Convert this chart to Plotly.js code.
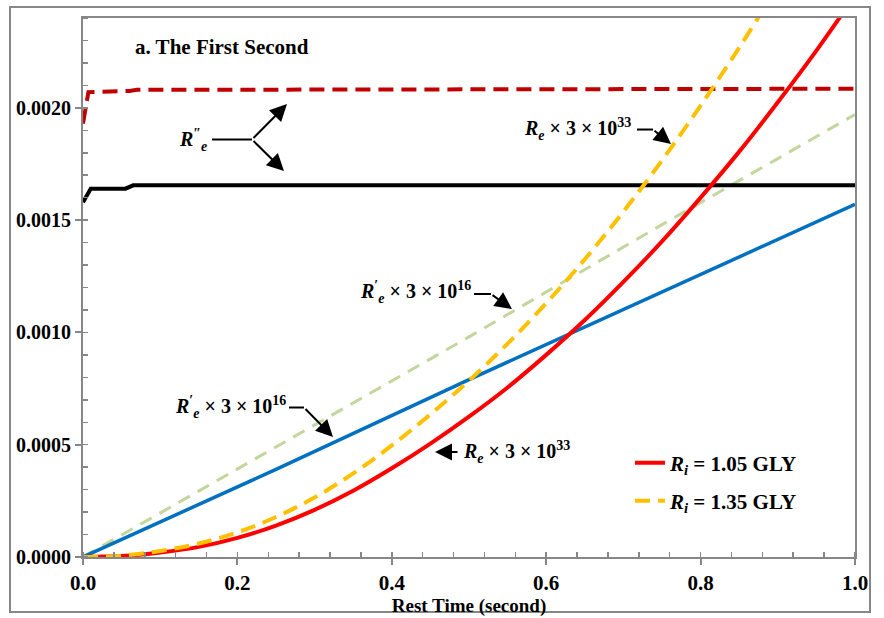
<!DOCTYPE html>
<html>
<head>
<meta charset="utf-8">
<script src="https://cdn.plot.ly/plotly-3.0.1.min.js"></script>
<style>html,body{margin:0;padding:0;background:#fff;}#chart{width:884px;height:618px;}</style>
</head>
<body>
<div id="chart"></div>
<script>
// ---- data ----
const tQuad = [0,0.05,0.1,0.15,0.2,0.25,0.3,0.35,0.4,0.45,0.5,0.55,0.6,0.65,0.7,0.75,0.8,0.85,0.9,0.95,1.0];
const reRed = [0,0.000004,0.000020,0.000045,0.000085,0.000140,0.000210,0.000295,0.000395,0.000505,0.000625,0.000755,0.000900,0.001055,0.001225,0.001405,0.001600,0.001805,0.002025,0.002255,0.002500];
const tYellow = [0,0.05,0.1,0.15,0.2,0.25,0.3,0.35,0.4,0.45,0.5,0.55,0.6,0.65,0.7,0.75,0.8,0.85,0.9];
const reYellow = [0,0.000006,0.000027,0.000060,0.000110,0.000178,0.000265,0.000372,0.000497,0.000635,0.000785,0.000950,0.001130,0.001326,0.001538,0.001766,0.002010,0.002268,0.002540];
const tLin = [0,0.25,0.5,0.75,1.0];
const rpBlue = [0,0.00039,0.00079,0.00118,0.00157];
const rpGreen = [0,0.00049,0.00098,0.00148,0.00197];
const tBlack = [0,0.01,0.055,0.065,1.0];
const rppBlack = [0.00158,0.00164,0.00164,0.001655,0.001655];
const tDarkRed = [0,0.007,0.06,0.07,1.0];
const rppDarkRed = [0.00193,0.00207,0.002075,0.00208,0.002085];
const legendNames = ['<i>R</i><sub><i>i</i></sub> = 1.05 GLY', '<i>R</i><sub><i>i</i></sub> = 1.35 GLY'];
const yTickVals = [0,0.0005,0.001,0.0015,0.002];
const xTickVals = [0,0.2,0.4,0.6,0.8,1.0];

const SERIF = 'Liberation Serif, Times New Roman, serif';
const traces = [
  {x:tLin, y:rpGreen, mode:'lines', line:{color:'#C3D69B', width:3, dash:'13px,9px'}, showlegend:false, hoverinfo:'skip'},
  {x:tLin, y:rpBlue, mode:'lines', line:{color:'#0070C0', width:3.5}, showlegend:false, hoverinfo:'skip'},
  {x:tBlack, y:rppBlack, mode:'lines', line:{color:'#000000', width:4}, showlegend:false, hoverinfo:'skip'},
  {x:tDarkRed, y:rppDarkRed, mode:'lines', line:{color:'#C00000', width:4, dash:'15px,8px'}, showlegend:false, hoverinfo:'skip'},
  {x:tQuad, y:reRed, mode:'lines', line:{color:'#FF0000', width:4, shape:'spline'}, name:legendNames[0], legend:'legend'},
  {x:tYellow, y:reYellow, mode:'lines', line:{color:'#FFC000', width:4, dash:'15px,8px', shape:'spline'}, name:legendNames[1], legend:'legend2'}
];

// pixel helpers for annotation geometry (plot area 83..855 x, 18..557 y)
const px = p => (p-83)/772;
const py = p => (557-p)/224.6*0.001;

const annFont = {family:SERIF, size:20, color:'#000', weight:'bold'};
const arrow = (hx,hy,tx,ty) => ({x:px(hx), y:py(hy), ax:px(tx), ay:py(ty), xref:'x', yref:'y', axref:'x', ayref:'y', text:'', showarrow:true, arrowhead:2, arrowsize:1.7, arrowwidth:2, arrowcolor:'#000', standoff:0});
const label = (text, x, y, xanchor) => ({x:px(x), y:py(y), xref:'x', yref:'y', text:text, showarrow:false, xanchor:xanchor, yanchor:'middle', font:annFont});
const seg = (x0,y0,x1,y1) => ({type:'line', xref:'x', yref:'y', x0:px(x0), y0:py(y0), x1:px(x1), y1:py(y1), line:{color:'#000', width:2}});

const reTxt = '<i>R</i><sub><i>e</i></sub> × 3 × 10<sup>33</sup>';
const rpTxt = '<i>R</i><sup>′</sup><sub><i>e</i></sub> × 3 × 10<sup>16</sup>';

const layout = {
  width:884, height:618,
  margin:{l:83, r:29, t:18, b:61},
  paper_bgcolor:'#fff', plot_bgcolor:'#fff',
  font:{family:SERIF, size:18, color:'#000'},
  xaxis:{range:[0,1], tickvals:xTickVals, tickformat:'.1f', showgrid:false, zeroline:false,
    showline:true, mirror:true, linecolor:'#878787', linewidth:2,
    ticks:'outside', ticklen:6, tickcolor:'#878787', tickwidth:2,
    minor:{dtick:0.04, ticks:'inside', ticklen:5, tickcolor:'#878787', tickwidth:1.5},
    tickfont:{family:SERIF, size:21, weight:'bold'},
    title:{text:'Rest Time (second)', font:{family:SERIF, size:19, weight:'bold'}, standoff:2}},
  yaxis:{range:[0,0.0024], tickvals:yTickVals, tickformat:'.4f', showgrid:false, zeroline:false,
    showline:true, mirror:true, linecolor:'#878787', linewidth:2,
    ticks:'outside', ticklen:6, tickcolor:'#878787', tickwidth:2,
    minor:{dtick:0.0001, ticks:'inside', ticklen:5, tickcolor:'#878787', tickwidth:1.5},
    tickfont:{family:SERIF, size:20, weight:'bold'}},
  legend:{x:(630-83)/772, y:(557-463)/539, xanchor:'left', yanchor:'middle', bgcolor:'rgba(0,0,0,0)', itemwidth:30,
    font:{family:SERIF, size:21, weight:'bold'}},
  legend2:{x:(630-83)/772, y:(557-501)/539, xanchor:'left', yanchor:'middle', bgcolor:'rgba(0,0,0,0)', itemwidth:30,
    font:{family:SERIF, size:21, weight:'bold'}},
  shapes:[
    {type:'rect', xref:'paper', yref:'paper', x0:(10-83)/772, x1:(870-83)/772, y0:(557-612)/539, y1:(557-7)/539, line:{color:'#878787', width:2}},
    seg(212,139.5,252,139.5),
    seg(637,129.5,653,129.5),
    seg(474,294,491,294),
    seg(289,407.5,304,407.5)
  ],
  annotations:[
    {x:px(133), y:py(47), xref:'x', yref:'y', text:'a. The First Second', showarrow:false, xanchor:'left', yanchor:'middle', font:{family:SERIF, size:21, weight:'bold', color:'#000'}},
    label('<i>R</i><sup>″</sup><sub><i>e</i></sub>', 209, 140, 'right'),
    arrow(287,104,252,139.5),
    arrow(284,171,252,139.5),
    label(reTxt, 633, 129, 'right'),
    arrow(671,144,653,129.5),
    label(rpTxt, 473, 292, 'right'),
    arrow(512,309,491,294),
    label(rpTxt, 288, 407, 'right'),
    arrow(333,437,304,407.5),
    arrow(435,452,459,452),
    label(reTxt, 461, 452, 'left')
  ]
};

Plotly.newPlot('chart', traces, layout, {staticPlot:true, displayModeBar:false});
</script>
</body>
</html>
